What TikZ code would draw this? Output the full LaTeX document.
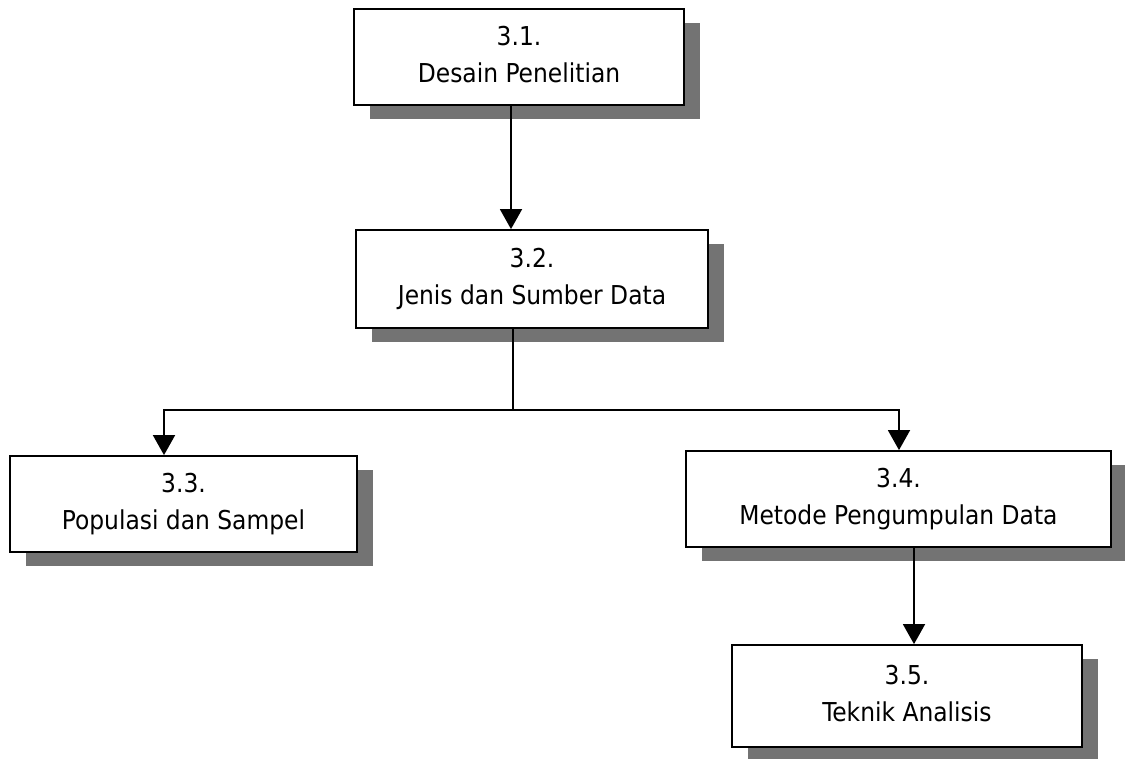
\documentclass[tikz,border=0pt]{standalone}
\usepackage{fontspec}
\setmainfont{DejaVu Sans Condensed}
\usetikzlibrary{arrows.meta,shadows}

\newcommand{\steplabel}[2]{#1\\#2\vphantom{gJ}}

\begin{document}
\begin{tikzpicture}[x=1pt,y=-1pt,
  stepbox/.style={draw=black, line width=1.8pt, fill=white,
    minimum width=#1, align=center, inner sep=0pt,
    font=\fontsize{26}{37}\selectfont,
    drop shadow={shadow xshift=16pt, shadow yshift=-14pt,
      fill=black!55, opacity=1}},
  flow/.style={line width=1.8pt, draw=black},
  arr/.style={flow, -{Triangle[width=22pt,length=20pt]}}]

\useasboundingbox (0,0) rectangle (1125,759);

% process steps
\node[stepbox=330pt, minimum height=96pt] (b1) at (519,57)
  {\steplabel{3.1.}{Desain Penelitian}};
\node[stepbox=352pt, minimum height=98pt] (b2) at (532,279)
  {\steplabel{3.2.}{Jenis dan Sumber Data}};
\node[stepbox=347pt, minimum height=96pt] (b3) at (183.5,504)
  {\steplabel{3.3.}{Populasi dan Sampel}};
\node[stepbox=425pt, minimum height=96pt] (b4) at (898.5,499)
  {\steplabel{3.4.}{Metode Pengumpulan Data}};
\node[stepbox=350pt, minimum height=102pt] (b5) at (907,696)
  {\steplabel{3.5.}{Teknik Analisis}};

% branching points
\coordinate (split) at (513,410);
\coordinate (left) at (164,410);
\coordinate (right) at (899,410);

% connectors
\draw[arr] ([xshift=-8pt]b1.south) -- ([xshift=-8pt]b1.south |- b2.north);
\draw[flow] (b2.south -| split) -- (split);
\draw[arr] (split) -- (left) -- (left |- b3.north);
\draw[arr] (split) -- (right) -- (right |- b4.north);
\draw[arr] ([xshift=15.5pt]b4.south) -- ([xshift=15.5pt]b4.south |- b5.north);
\end{tikzpicture}
\end{document}
